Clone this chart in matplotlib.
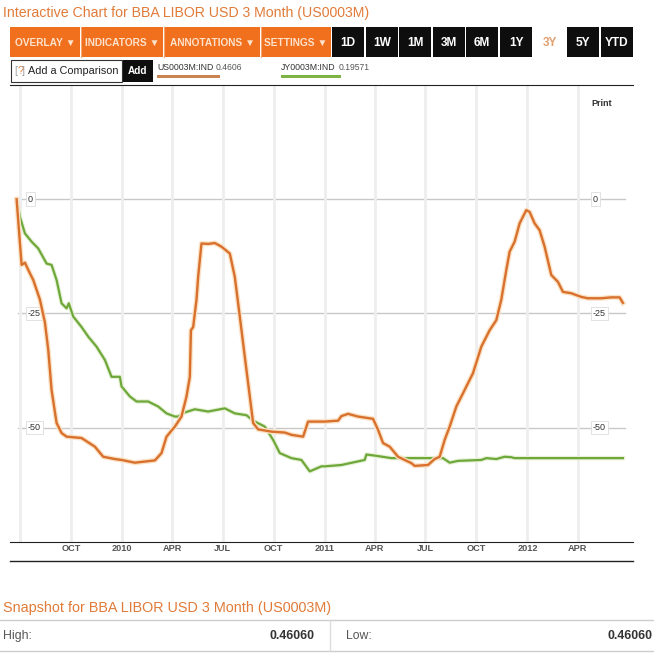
import matplotlib
matplotlib.use("Agg")
import matplotlib.pyplot as plt
import matplotlib.dates as mdates
import matplotlib.patheffects as pe
from matplotlib.patches import Rectangle
import pandas as pd

plt.rcParams['font.family'] = ['Liberation Sans', 'DejaVu Sans']

# --- data (percent change since start) ---
us_dates = ['2009-06-25', '2009-07-04', '2009-07-10', '2009-07-16', '2009-07-25', '2009-08-06',
            '2009-08-15', '2009-08-21', '2009-08-27', '2009-09-05', '2009-09-14', '2009-09-23',
            '2009-10-20', '2009-11-13', '2009-11-28', '2009-12-19', '2009-12-31', '2010-01-24',
            '2010-03-01', '2010-03-13', '2010-03-22', '2010-04-06', '2010-04-18', '2010-04-27',
            '2010-05-03', '2010-05-05', '2010-05-09', '2010-05-15', '2010-05-18', '2010-05-24',
            '2010-06-05', '2010-06-17', '2010-06-29', '2010-07-14', '2010-07-23', '2010-08-01',
            '2010-08-10', '2010-08-19', '2010-08-25', '2010-09-03', '2010-09-27', '2010-10-21',
            '2010-11-02', '2010-11-23', '2010-12-02', '2011-01-01', '2011-01-25', '2011-01-31',
            '2011-02-12', '2011-03-02', '2011-03-29', '2011-04-07', '2011-04-16', '2011-04-28',
            '2011-05-13', '2011-06-06', '2011-06-12', '2011-07-06', '2011-07-18', '2011-07-27',
            '2011-08-05', '2011-08-14', '2011-08-26', '2011-09-07', '2011-09-16', '2011-09-25',
            '2011-10-10', '2011-10-25', '2011-11-06', '2011-11-15', '2011-11-24', '2011-11-30',
            '2011-12-09', '2011-12-18', '2011-12-30', '2012-01-05', '2012-01-14', '2012-01-23',
            '2012-02-01', '2012-02-13', '2012-02-25', '2012-03-05', '2012-03-20', '2012-04-07',
            '2012-04-19', '2012-05-13', '2012-05-31', '2012-06-15', '2012-06-21']
us_vals = [0, -14.4, -13.9, -15.5, -17.7, -22.0,
           -27.0, -33.0, -41.8, -49.0, -51.2, -52.0,
           -52.3, -54.2, -56.4, -56.9, -57.1, -57.7,
           -57.2, -55.6, -52.0, -49.8, -47.6, -43.2,
           -38.9, -28.7, -28.0, -22.0, -17.0, -9.7,
           -9.8, -9.6, -10.4, -11.9, -17.0, -25.7,
           -34.5, -43.2, -49.0, -50.4, -50.9, -51.1,
           -51.6, -52.0, -48.7, -48.7, -48.5, -47.5,
           -47.0, -47.6, -48.1, -50.5, -53.4, -54.2,
           -56.4, -57.8, -58.4, -58.2, -56.9, -56.4,
           -52.7, -49.8, -45.4, -42.5, -40.3, -38.1,
           -32.3, -28.7, -26.5, -22.0, -15.5, -11.5,
           -9.3, -5.3, -2.4, -2.8, -5.3, -6.8,
           -10.4, -16.6, -18.1, -20.3, -20.6, -21.4,
           -21.7, -21.7, -21.5, -21.5, -22.7]

jy_dates = ['2009-06-25', '2009-07-01', '2009-07-10', '2009-07-22', '2009-08-03', '2009-08-18',
            '2009-08-27', '2009-09-05', '2009-09-14', '2009-09-23', '2009-09-27', '2009-10-05',
            '2009-10-20', '2009-11-01', '2009-11-16', '2009-12-01', '2009-12-13', '2009-12-28',
            '2009-12-31', '2010-01-15', '2010-01-27', '2010-02-17', '2010-03-07', '2010-03-22',
            '2010-04-06', '2010-04-12', '2010-04-24', '2010-05-12', '2010-06-05', '2010-07-05',
            '2010-07-23', '2010-08-13', '2010-08-25', '2010-09-15', '2010-09-30', '2010-10-12',
            '2010-11-02', '2010-11-20', '2010-12-05', '2010-12-26', '2011-01-01', '2011-01-31',
            '2011-03-14', '2011-03-17', '2011-04-04', '2011-05-01', '2011-08-02', '2011-08-14',
            '2011-08-29', '2011-10-10', '2011-10-19', '2011-11-06', '2011-11-21', '2011-12-03',
            '2011-12-09', '2012-06-21']
jy_vals = [0, -3.9, -7.5, -9.3, -10.8, -14.1,
           -14.4, -17.7, -22.8, -23.9, -22.8, -25.7,
           -28.0, -30.1, -32.3, -35.2, -38.9, -38.9,
           -41.0, -43.2, -44.3, -44.3, -45.4, -46.9,
           -47.6, -47.6, -46.7, -46.0, -46.5, -45.8,
           -46.9, -47.3, -48.5, -49.8, -52.7, -55.6,
           -56.7, -57.1, -59.6, -58.5, -58.5, -58.2,
           -57.1, -55.9, -56.2, -56.7, -56.7, -57.7,
           -57.3, -57.1, -56.7, -56.9, -56.4, -56.5,
           -56.7, -56.7]

y_ticks = [0, -25, -50]
toolbar_orange = ['OVERLAY \u25bc', 'INDICATORS \u25bc', 'ANNOTATIONS \u25bc', 'SETTINGS \u25bc']
toolbar_ranges = ['1D', '1W', '1M', '3M', '6M', '1Y', '3Y', '5Y', 'YTD']

ORANGE = '#e07b39'
W, H = 654, 654

fig = plt.figure(figsize=(W / 100, H / 100), dpi=100)
fig.patch.set_facecolor('white')

# overlay axes in pixel coords for the page furniture
ui = fig.add_axes([0, 0, 1, 1])
ui.set_xlim(0, W)
ui.set_ylim(H, 0)
ui.axis('off')

ui.text(3, 13, 'Interactive Chart for BBA LIBOR USD 3 Month (US0003M)', color=ORANGE,
        fontsize=10.2, va='center', ha='left')

# orange menu buttons
orange_edges = [10, 81, 164, 261, 332]
for i, lab in enumerate(toolbar_orange):
    x0, x1 = orange_edges[i], orange_edges[i + 1] - 1
    ui.add_patch(Rectangle((x0, 27), x1 - x0, 30, facecolor='#f0701e', edgecolor='none'))
    ui.text((x0 + x1) / 2, 42.5, lab, color='#fde2cc', fontsize=7.3, fontweight='bold',
            ha='center', va='center')
    if i > 0:
        ui.plot([x0 - 0.5, x0 - 0.5], [27, 57], color='#f7a56a', lw=0.8)

# range buttons
range_x = [332, 366, 399, 433, 466, 500, 534, 567, 601]
for x0, lab in zip(range_x, toolbar_ranges):
    if lab == '3Y':
        ui.text(x0 + 16, 42.5, lab, color='#e0a070', fontsize=8.6, fontweight='bold',
                ha='center', va='center')
        continue
    ui.add_patch(Rectangle((x0, 27), 32, 30, facecolor='#0e0e0e', edgecolor='none'))
    ui.text(x0 + 16, 42.5, lab, color='white', fontsize=8.6, fontweight='bold',
            ha='center', va='center')

# comparison row
ui.add_patch(Rectangle((11, 60), 111, 22, facecolor='white', edgecolor='#333333', lw=0.8))
ui.text(14, 71, '[', color='#999999', fontsize=7.8, va='center')
ui.text(17.3, 71, '?', color=ORANGE, fontsize=7.8, va='center')
ui.text(22, 71, ']', color='#999999', fontsize=7.8, va='center')
ui.text(28, 71, 'Add a Comparison', color='#222222', fontsize=7.8, va='center')
ui.add_patch(Rectangle((123, 60), 30, 22, facecolor='#0e0e0e', edgecolor='none'))
ui.text(138, 71, 'Add', color='white', fontsize=7.2, fontweight='bold', ha='center', va='center')

ui.text(157, 67, 'US0003M:IND', color='#333333', fontsize=6.3, va='center')
ui.text(216, 67, '0.4606', color='#555555', fontsize=6.2, va='center')
ui.add_patch(Rectangle((157, 75), 63, 3, facecolor='#c98451', edgecolor='none'))
ui.text(281, 67, 'JY0003M:IND', color='#333333', fontsize=6.3, va='center')
ui.text(339, 67, '0.19571', color='#555555', fontsize=6.2, va='center')
ui.add_patch(Rectangle((281, 75), 60, 3, facecolor='#7cb342', edgecolor='none'))

ui.text(602, 104, 'Print', color='#333333', fontsize=6.5, fontweight='bold',
        ha='center', va='center')

# lower axis rule and snapshot table
ui.plot([10, 633], [561, 561], color='#222222', lw=1)
ui.text(3, 608, 'Snapshot for BBA LIBOR USD 3 Month (US0003M)', color=ORANGE,
        fontsize=10.4, va='center', ha='left')
ui.plot([0, W], [619.5, 619.5], color='#cccccc', lw=1)
ui.plot([0, W], [650.5, 650.5], color='#cccccc', lw=1)
ui.plot([330, 330], [619.5, 650.5], color='#dddddd', lw=1)
ui.text(3, 636, 'High:', color='#555555', fontsize=8.8, va='center')
ui.text(315, 636, '0.46060', color='#333333', fontsize=8.8, fontweight='bold',
        ha='right', va='center')
ui.text(346, 636, 'Low:', color='#555555', fontsize=8.8, va='center')
ui.text(652, 636, '0.46060', color='#333333', fontsize=8.8, fontweight='bold',
        ha='right', va='center')

# --- chart ---
top_px, bot_px, left_px, right_px = 85, 541.7, 10, 633
ax = fig.add_axes([left_px / W, 1 - bot_px / H, (right_px - left_px) / W, (bot_px - top_px) / H])
ax.patch.set_alpha(0)

base = pd.Timestamp('2009-10-01')
ax.set_xlim(mdates.date2num(base - pd.Timedelta(days=109.9)),
            mdates.date2num(base + pd.Timedelta(days=1012.2)))
ax.set_ylim(-75, 25)

quarters = pd.date_range('2009-07-01', '2012-04-01', freq='QS')
qlabels = ['' if i == 0 else (str(d.year) if d.month == 1 else d.strftime('%b').upper())
           for i, d in enumerate(quarters)]
ax.set_xticks(mdates.date2num(quarters))
ax.set_xticklabels(qlabels)
ax.tick_params(axis='x', length=0, pad=1.5, labelsize=6.6, labelcolor='#555555')
for t in ax.get_xticklabels():
    t.set_fontweight('bold')
ax.set_yticks([])
ax.grid(axis='x', color='#eeeeee', lw=2)

for s in ['left', 'right']:
    ax.spines[s].set_visible(False)
ax.spines['top'].set_color('#222222')
ax.spines['bottom'].set_color('#222222')

x0f = (18 - left_px) / (right_px - left_px)
x1f = (625 - left_px) / (right_px - left_px)
for v in y_ticks:
    ax.axhline(v, xmin=x0f, xmax=x1f, color='#c8c8c8', lw=1, zorder=1)
    for px in (28, 593):
        ax.text((px - left_px) / (right_px - left_px), v, str(v),
                transform=ax.get_yaxis_transform(), fontsize=6.5, color='#333333',
                ha='left', va='center', zorder=2,
                bbox=dict(boxstyle='square,pad=0.25', facecolor='white',
                          edgecolor='#dddddd', lw=0.6))

ax.plot(pd.to_datetime(jy_dates), jy_vals, color='#6fa83a', lw=1.6, zorder=3,
        path_effects=[pe.Stroke(linewidth=3.2, foreground='#e6f1d6'), pe.Normal()])
ax.plot(pd.to_datetime(us_dates), us_vals, color='#d8712d', lw=1.7, zorder=4,
        path_effects=[pe.Stroke(linewidth=3.6, foreground='#fbe2c6'), pe.Normal()])

fig.savefig('out.png', dpi=100)
